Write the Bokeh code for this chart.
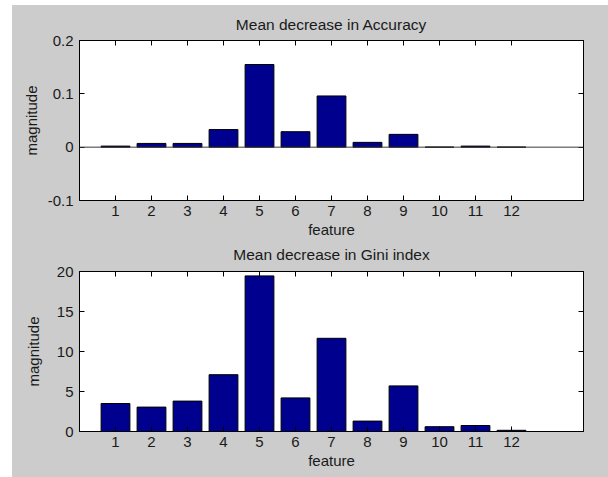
from bokeh.plotting import figure
from bokeh.models import Span, LinearAxis, FixedTicker, CustomJSTickFormatter
from bokeh.layouts import column
from bokeh.embed import file_html
from bokeh.resources import INLINE

# ---- data ----
features = list(range(1, 13))
x_tick_values = list(range(1, 13))

acc_title = "Mean decrease in Accuracy"
acc_values = [0.002, 0.007, 0.007, 0.033, 0.155, 0.029, 0.096, 0.009, 0.024, 0.0, 0.002, 0.0]
acc_y_ticks = [-0.1, 0, 0.1, 0.2]
acc_y_labels = ["-0.1", "0", "0.1", "0.2"]

gini_title = "Mean decrease in Gini index"
gini_values = [3.5, 3.05, 3.8, 7.1, 19.45, 4.2, 11.65, 1.3, 5.7, 0.6, 0.75, 0.15]
gini_y_ticks = [0, 5, 10, 15, 20]
gini_y_labels = ["0", "5", "10", "15", "20"]

x_label = "feature"
y_label = "magnitude"

FIG_GRAY = "#cccccc"
BAR_BLUE = "#00008f"
FONT = "Liberation Sans"


def blank_axis(ticks, standoff):
    ax = LinearAxis(ticker=FixedTicker(ticks=ticks),
                    formatter=CustomJSTickFormatter(code="return ''"),
                    major_tick_in=5, major_tick_out=0, minor_tick_line_color=None,
                    major_label_standoff=standoff, axis_line_color="black",
                    major_tick_line_color="black")
    return ax


def make_fig(title, values, yrange, yticks, ylabels, height, top_b, bottom_b, ylab_standoff,
             title_standoff, zero_line, border_alpha=1.0, margin=(0, 0, 0, 0)):
    p = figure(width=596, height=height, x_range=(0, 14), y_range=yrange,
               output_backend="svg", toolbar_location=None,
               min_border_left=67, min_border_right=25,
               min_border_top=top_b, min_border_bottom=bottom_b,
               border_fill_color=FIG_GRAY, border_fill_alpha=border_alpha,
               background_fill_color="white",
               outline_line_color="black", outline_line_width=1, margin=margin)
    p.xgrid.visible = False
    p.ygrid.visible = False

    p.vbar(x=features, top=values, bottom=0, width=0.8,
           fill_color=BAR_BLUE, line_color="black", line_width=1)
    if zero_line:
        p.add_layout(Span(location=0, dimension="width", line_color="#3a3a3a", line_width=1))

    p.title.text = title
    p.title.align = "center"
    p.title.text_font = FONT
    p.title.text_font_size = "15.5px"
    p.title.text_font_style = "normal"
    p.title.text_color = "#1a1a1a"
    p.title.standoff = title_standoff

    xa = p.xaxis[0]
    xa.ticker = FixedTicker(ticks=x_tick_values)
    xa.major_tick_in = 5
    xa.major_tick_out = 0
    xa.minor_tick_line_color = None
    xa.major_label_text_font = FONT
    xa.major_label_text_font_size = "15px"
    xa.major_label_text_color = "#1a1a1a"
    xa.major_label_standoff = 5
    xa.axis_label = x_label
    xa.axis_label_text_font = FONT
    xa.axis_label_text_font_size = "15px"
    xa.axis_label_text_font_style = "normal"
    xa.axis_label_text_color = "#1a1a1a"
    xa.axis_label_standoff = 2
    xa.axis_line_color = "black"

    ya = p.yaxis[0]
    ya.ticker = FixedTicker(ticks=yticks)
    ya.major_label_overrides = {t: l for t, l in zip(yticks, ylabels)}
    ya.major_tick_in = 5
    ya.major_tick_out = 0
    ya.minor_tick_line_color = None
    ya.major_label_text_font = FONT
    ya.major_label_text_font_size = "15px"
    ya.major_label_text_color = "#1a1a1a"
    ya.major_label_standoff = 6
    ya.axis_label = y_label
    ya.axis_label_text_font = FONT
    ya.axis_label_text_font_size = "15px"
    ya.axis_label_text_font_style = "normal"
    ya.axis_label_text_color = "#1a1a1a"
    ya.axis_label_standoff = ylab_standoff
    ya.axis_line_color = "black"

    p.add_layout(blank_axis(x_tick_values, 0), "above")
    p.add_layout(blank_axis(yticks, 0), "right")
    return p


p1 = make_fig(acc_title, acc_values, (-0.1, 0.2), acc_y_ticks, acc_y_labels,
              height=235, top_b=35, bottom_b=40, ylab_standoff=5, title_standoff=16,
              zero_line=True)
p2 = make_fig(gini_title, gini_values, (0, 20), gini_y_ticks, gini_y_labels,
              height=245, top_b=39, bottom_b=46, ylab_standoff=12, title_standoff=18,
              zero_line=False, border_alpha=0.0, margin=(-8, 0, 0, 0))

layout = column(p1, p2, spacing=0, margin=(5, 0, 0, 12), background=FIG_GRAY)

open("out.html", "w").write(file_html(layout, INLINE))
